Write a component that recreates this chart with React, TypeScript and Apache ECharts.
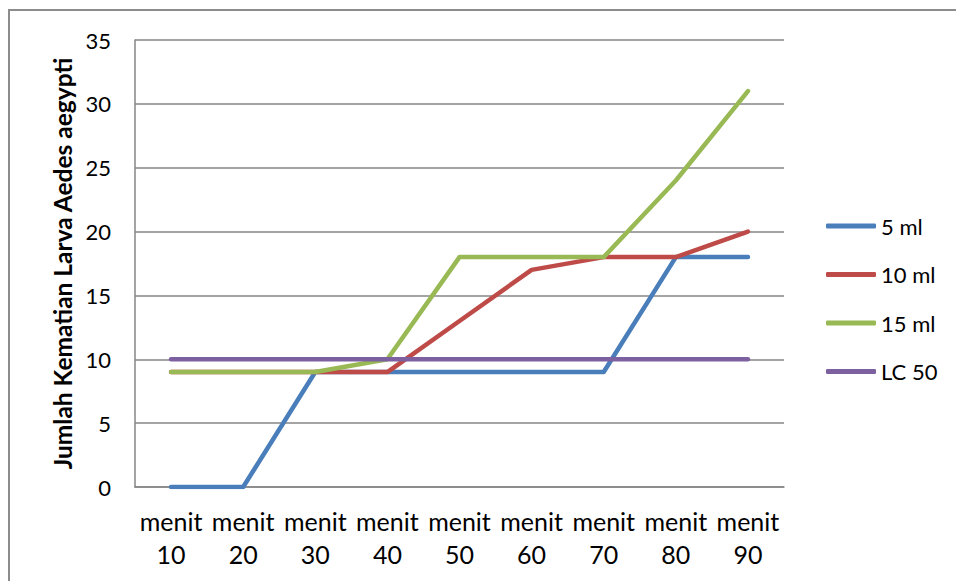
import React, { useEffect, useRef } from "react";
import * as echarts from "echarts";

const categories = ["menit\n10", "menit\n20", "menit\n30", "menit\n40", "menit\n50", "menit\n60", "menit\n70", "menit\n80", "menit\n90"];
const ml5 = [0, 0, 9, 9, 9, 9, 9, 18, 18];
const ml10 = [9, 9, 9, 9, 13, 17, 18, 18, 20];
const ml15 = [9, 9, 9, 10, 18, 18, 18, 24, 31];
const lc50 = [10, 10, 10, 10, 10, 10, 10, 10, 10];
const seriesNames = ["5 ml", "10 ml", "15 ml", "LC 50"];
const colors = ["#4a7ebb", "#be4b48", "#98b954", "#7d60a0"];

export default function App() {
  const ref = useRef<HTMLDivElement>(null);
  useEffect(() => {
    if (!ref.current) return;
    const chart = echarts.init(ref.current, null, { renderer: "svg" });
    const font = "Lato, 'Open Sans', sans-serif";
    const datasets = [ml5, ml10, ml15, lc50];
    chart.setOption({
      animation: false,
      backgroundColor: "#ffffff",
      textStyle: { fontFamily: font, color: "#000" },
      graphic: [
        {
          type: "rect",
          shape: { x: 9, y: 10, width: 960, height: 600 },
          style: { fill: "none", stroke: "#8c8c8c", lineWidth: 2 },
          silent: true,
        },
      ],
      grid: { left: 135, right: 172, top: 40, bottom: 94, containLabel: false },
      legend: {
        orient: "vertical",
        left: 826,
        top: 215,
        padding: 0,
        itemWidth: 50,
        itemHeight: 5,
        itemGap: 26.5,
        icon: "roundRect",
        textStyle: { fontFamily: font, fontSize: 22, color: "#000", lineHeight: 20 },
        data: seriesNames,
      },
      xAxis: {
        type: "category",
        data: categories,
        boundaryGap: true,
        axisLine: { show: true, lineStyle: { color: "#868686", width: 1.5 } },
        axisTick: { show: false },
        axisLabel: { fontFamily: font, fontSize: 25, color: "#000", lineHeight: 33, margin: 17, interval: 0 },
      },
      yAxis: {
        type: "value",
        min: 0,
        max: 35,
        interval: 5,
        name: "Jumlah Kematian Larva Aedes aegypti",
        nameLocation: "middle",
        nameGap: 60,
        nameTextStyle: { fontFamily: font, fontSize: 24.5, fontWeight: "bold", color: "#000" },
        axisLine: { show: true, lineStyle: { color: "#868686", width: 1.5 } },
        axisTick: { show: false },
        axisLabel: { fontFamily: font, fontSize: 22, color: "#000", margin: 24 },
        splitLine: { show: true, lineStyle: { color: "#868686", width: 1.5 } },
      },
      series: seriesNames.map((name, i) => ({
        name,
        type: "line",
        data: datasets[i],
        symbol: "none",
        color: colors[i],
        lineStyle: { width: 4.5, color: colors[i], cap: "round", join: "round" },
      })),
    });
    return () => chart.dispose();
  }, []);
  return <div ref={ref} style={{ position: "fixed", left: 0, top: 0, width: 956, height: 581 }} />;
}
